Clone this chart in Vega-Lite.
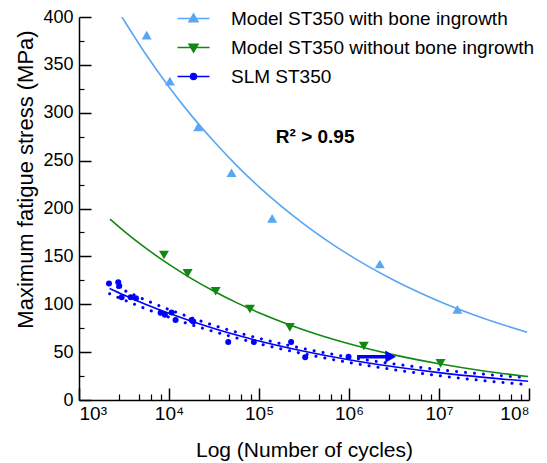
{
  "$schema": "https://vega.github.io/schema/vega-lite/v6.json",
  "width": 450,
  "height": 383,
  "autosize": {"type": "none"},
  "padding": {"left": 79, "top": 17, "right": 18, "bottom": 63},
  "config": {
    "font": "Liberation Sans",
    "view": {"stroke": null},
    "axis": {"grid": false, "domainColor": "#000", "tickColor": "#000", "domainWidth": 1.5, "tickWidth": 1.5, "labelColor": "#000", "titleColor": "#000", "labelFont": "Liberation Sans", "titleFont": "Liberation Sans", "titleFontWeight": "normal"},
    "legend": {"title": null, "orient": "none", "legendX": 105, "legendY": -8, "symbolSize": 100, "symbolStrokeWidth": 1.5, "labelFontSize": 19, "labelLimit": 0, "labelOffset": 28, "rowPadding": 9, "padding": 0, "labelColor": "#000", "labelFont": "Liberation Sans"}
  },
  "datasets": {
    "pts": [
      {"series": "Model ST350 with bone ingrowth", "N": 5650, "S": 381},
      {"series": "Model ST350 with bone ingrowth", "N": 10230, "S": 333},
      {"series": "Model ST350 with bone ingrowth", "N": 21100, "S": 285.3},
      {"series": "Model ST350 with bone ingrowth", "N": 49500, "S": 237.3},
      {"series": "Model ST350 with bone ingrowth", "N": 140000, "S": 189.7},
      {"series": "Model ST350 with bone ingrowth", "N": 2200000, "S": 142},
      {"series": "Model ST350 with bone ingrowth", "N": 16000000, "S": 94.7},
      {"series": "Model ST350 without bone ingrowth", "N": 8790, "S": 151.4},
      {"series": "Model ST350 without bone ingrowth", "N": 16100, "S": 132.2},
      {"series": "Model ST350 without bone ingrowth", "N": 33000, "S": 113.6},
      {"series": "Model ST350 without bone ingrowth", "N": 79300, "S": 95},
      {"series": "Model ST350 without bone ingrowth", "N": 220000, "S": 75.9},
      {"series": "Model ST350 without bone ingrowth", "N": 1460000, "S": 56.4},
      {"series": "Model ST350 without bone ingrowth", "N": 10400000, "S": 38.3},
      {"series": "SLM ST350", "N": 2153, "S": 121.8},
      {"series": "SLM ST350", "N": 2729, "S": 122.9},
      {"series": "SLM ST350", "N": 2800, "S": 119},
      {"series": "SLM ST350", "N": 2979, "S": 107.2},
      {"series": "SLM ST350", "N": 3750, "S": 107.2},
      {"series": "SLM ST350", "N": 4295, "S": 106.2},
      {"series": "SLM ST350", "N": 8072, "S": 91.2},
      {"series": "SLM ST350", "N": 9000, "S": 89},
      {"series": "SLM ST350", "N": 10690, "S": 91.5},
      {"series": "SLM ST350", "N": 11830, "S": 83.5},
      {"series": "SLM ST350", "N": 17820, "S": 83.5},
      {"series": "SLM ST350", "N": 18600, "S": 82},
      {"series": "SLM ST350", "N": 45500, "S": 60.5},
      {"series": "SLM ST350", "N": 87700, "S": 60.5},
      {"series": "SLM ST350", "N": 227500, "S": 60.5},
      {"series": "SLM ST350", "N": 326000, "S": 44.6},
      {"series": "SLM ST350", "N": 988000, "S": 45.2}
    ],
    "fits": [
      {"series": "Model ST350 with bone ingrowth", "N": 3000, "S": 400},
      {"series": "Model ST350 with bone ingrowth", "N": 5623, "S": 360},
      {"series": "Model ST350 with bone ingrowth", "N": 10000, "S": 327},
      {"series": "Model ST350 with bone ingrowth", "N": 17783, "S": 297},
      {"series": "Model ST350 with bone ingrowth", "N": 31623, "S": 269.9},
      {"series": "Model ST350 with bone ingrowth", "N": 56234, "S": 245.1},
      {"series": "Model ST350 with bone ingrowth", "N": 100000, "S": 222.6},
      {"series": "Model ST350 with bone ingrowth", "N": 316228, "S": 183.7},
      {"series": "Model ST350 with bone ingrowth", "N": 1000000, "S": 151.5},
      {"series": "Model ST350 with bone ingrowth", "N": 3162278, "S": 125},
      {"series": "Model ST350 with bone ingrowth", "N": 10000000, "S": 103.1},
      {"series": "Model ST350 with bone ingrowth", "N": 31622777, "S": 85.1},
      {"series": "Model ST350 with bone ingrowth", "N": 95499259, "S": 70.7},
      {"series": "Model ST350 without bone ingrowth", "N": 2213, "S": 188.9},
      {"series": "Model ST350 without bone ingrowth", "N": 3162, "S": 176.4},
      {"series": "Model ST350 without bone ingrowth", "N": 5623, "S": 158},
      {"series": "Model ST350 without bone ingrowth", "N": 10000, "S": 141.6},
      {"series": "Model ST350 without bone ingrowth", "N": 17783, "S": 126.8},
      {"series": "Model ST350 without bone ingrowth", "N": 31623, "S": 113.6},
      {"series": "Model ST350 without bone ingrowth", "N": 56234, "S": 101.7},
      {"series": "Model ST350 without bone ingrowth", "N": 100000, "S": 91.1},
      {"series": "Model ST350 without bone ingrowth", "N": 316228, "S": 73.1},
      {"series": "Model ST350 without bone ingrowth", "N": 1000000, "S": 58.7},
      {"series": "Model ST350 without bone ingrowth", "N": 3162278, "S": 47.1},
      {"series": "Model ST350 without bone ingrowth", "N": 10000000, "S": 37.8},
      {"series": "Model ST350 without bone ingrowth", "N": 31622777, "S": 30.3},
      {"series": "Model ST350 without bone ingrowth", "N": 97723722, "S": 24.5},
      {"series": "SLM ST350", "N": 2188, "S": 116.5},
      {"series": "SLM ST350", "N": 3162, "S": 109.6},
      {"series": "SLM ST350", "N": 5623, "S": 99.5},
      {"series": "SLM ST350", "N": 10000, "S": 90.5},
      {"series": "SLM ST350", "N": 17783, "S": 82.2},
      {"series": "SLM ST350", "N": 31623, "S": 74.7},
      {"series": "SLM ST350", "N": 56234, "S": 67.8},
      {"series": "SLM ST350", "N": 100000, "S": 61.6},
      {"series": "SLM ST350", "N": 316228, "S": 50.9},
      {"series": "SLM ST350", "N": 1000000, "S": 42},
      {"series": "SLM ST350", "N": 3162278, "S": 34.7},
      {"series": "SLM ST350", "N": 10000000, "S": 28.6},
      {"series": "SLM ST350", "N": 31622777, "S": 23.6},
      {"series": "SLM ST350", "N": 97723722, "S": 19.6}
    ],
    "band": [
      {"side": "upper", "N": 2188, "S": 122},
      {"side": "upper", "N": 3162, "S": 114.6},
      {"side": "upper", "N": 5623, "S": 104},
      {"side": "upper", "N": 10000, "S": 94.5},
      {"side": "upper", "N": 17783, "S": 85.8},
      {"side": "upper", "N": 31623, "S": 77.9},
      {"side": "upper", "N": 56234, "S": 70.8},
      {"side": "upper", "N": 100000, "S": 64.4},
      {"side": "upper", "N": 316228, "S": 53.6},
      {"side": "upper", "N": 1000000, "S": 44.8},
      {"side": "upper", "N": 3162278, "S": 37.7},
      {"side": "upper", "N": 10000000, "S": 31.8},
      {"side": "upper", "N": 31622777, "S": 27},
      {"side": "upper", "N": 97723722, "S": 23.2},
      {"side": "lower", "N": 2188, "S": 111},
      {"side": "lower", "N": 3162, "S": 104.6},
      {"side": "lower", "N": 5623, "S": 95},
      {"side": "lower", "N": 10000, "S": 86.5},
      {"side": "lower", "N": 17783, "S": 78.6},
      {"side": "lower", "N": 31623, "S": 71.5},
      {"side": "lower", "N": 56234, "S": 64.8},
      {"side": "lower", "N": 100000, "S": 58.8},
      {"side": "lower", "N": 316228, "S": 48.2},
      {"side": "lower", "N": 1000000, "S": 39.2},
      {"side": "lower", "N": 3162278, "S": 31.7},
      {"side": "lower", "N": 10000000, "S": 25.4},
      {"side": "lower", "N": 31622777, "S": 20.2},
      {"side": "lower", "N": 97723722, "S": 16}
    ],
    "arrow": [{"N": 1230000, "N2": 2900000, "S": 45.2}],
    "note": [{"N": 153800, "S": 274.5, "label": "R² > 0.95"}]
  },
  "resolve": {"axis": {"x": "independent", "y": "independent"}},
  "layer": [
    {
      "data": {"name": "pts"},
      "mark": {"type": "point", "opacity": 0},
      "encoding": {
        "x": {"field": "N", "type": "quantitative", "scale": {"type": "log", "domain": [1000, 100000000], "nice": false},
          "axis": {"orient": "bottom", "values": [2780, 4600, 6350, 8100, 27800, 46000, 63500, 81000, 278000, 460000, 635000, 810000, 2780000, 4600000, 6350000, 8100000, 27800000, 46000000, 63500000, 81000000], "tickSize": -6, "tickWidth": 1.2, "labels": false, "domain": false, "title": null}},
        "y": {"field": "S", "type": "quantitative", "scale": {"domain": [0, 400], "nice": false},
          "axis": {"orient": "left", "values": [25, 75, 125, 175, 225, 275, 325, 375], "tickSize": -5, "tickWidth": 1.2, "labels": false, "domain": false, "title": null}}
      }
    },
    {
      "data": {"name": "pts"},
      "transform": [{"filter": "datum.N < 0"}],
      "mark": {"type": "point", "filled": true, "opacity": 1, "strokeWidth": 1.5},
      "encoding": {
        "x": {"field": "N", "type": "quantitative", "scale": {"type": "log", "domain": [1000, 100000000], "nice": false}, "axis": null},
        "y": {"field": "S", "type": "quantitative", "scale": {"domain": [0, 400], "nice": false}, "axis": null},
        "color": {"field": "series", "type": "nominal", "scale": {"domain": ["Model ST350 with bone ingrowth", "Model ST350 without bone ingrowth", "SLM ST350"], "range": ["#58A6F4", "#118811", "#0000FF"]}},
        "stroke": {"field": "series", "type": "nominal", "scale": {"domain": ["Model ST350 with bone ingrowth", "Model ST350 without bone ingrowth", "SLM ST350"], "range": ["#58A6F4", "#118811", "#0000FF"]}},
        "shape": {"field": "series", "type": "nominal", "scale": {"domain": ["Model ST350 with bone ingrowth", "Model ST350 without bone ingrowth", "SLM ST350"], "range": ["M-3.2,0H3.2M0,-0.9L0.9,0.65L-0.9,0.65Z", "M-3.2,0H3.2M0,0.9L0.9,-0.65L-0.9,-0.65Z", "M-3.2,0H3.2M-0.6,0A0.6,0.6,0,1,0,0.6,0A0.6,0.6,0,1,0,-0.6,0Z"]}}
      }
    },
    {
      "data": {"name": "band"},
      "mark": {"type": "line", "color": "#0000FF", "strokeWidth": 3, "strokeCap": "round", "strokeDash": [0.1, 8.9], "interpolate": "monotone", "clip": true},
      "encoding": {
        "x": {"field": "N", "type": "quantitative", "scale": {"type": "log", "domain": [1000, 100000000], "nice": false}, "axis": null},
        "y": {"field": "S", "type": "quantitative", "scale": {"domain": [0, 400], "nice": false}, "axis": null},
        "detail": {"field": "side"}
      }
    },
    {
      "data": {"name": "fits"},
      "transform": [{"filter": "datum.series === 'Model ST350 with bone ingrowth'"}],
      "mark": {"type": "line", "color": "#58A6F4", "strokeWidth": 1.6, "interpolate": "monotone", "clip": true},
      "encoding": {
        "x": {"field": "N", "type": "quantitative", "scale": {"type": "log", "domain": [1000, 100000000], "nice": false}, "axis": null},
        "y": {"field": "S", "type": "quantitative", "scale": {"domain": [0, 400], "nice": false}, "axis": null}
      }
    },
    {
      "data": {"name": "fits"},
      "transform": [{"filter": "datum.series === 'Model ST350 without bone ingrowth'"}],
      "mark": {"type": "line", "color": "#118811", "strokeWidth": 1.6, "interpolate": "monotone", "clip": true},
      "encoding": {
        "x": {"field": "N", "type": "quantitative", "scale": {"type": "log", "domain": [1000, 100000000], "nice": false}, "axis": null},
        "y": {"field": "S", "type": "quantitative", "scale": {"domain": [0, 400], "nice": false}, "axis": null}
      }
    },
    {
      "data": {"name": "fits"},
      "transform": [{"filter": "datum.series === 'SLM ST350'"}],
      "mark": {"type": "line", "color": "#0000FF", "strokeWidth": 1.6, "interpolate": "monotone", "clip": true},
      "encoding": {
        "x": {"field": "N", "type": "quantitative", "scale": {"type": "log", "domain": [1000, 100000000], "nice": false}, "axis": null},
        "y": {"field": "S", "type": "quantitative", "scale": {"domain": [0, 400], "nice": false}, "axis": null}
      }
    },
    {
      "data": {"name": "pts"},
      "transform": [{"filter": "datum.series === 'Model ST350 with bone ingrowth'"}],
      "mark": {"type": "point", "shape": "triangle-up", "filled": true, "color": "#58A6F4", "opacity": 1, "size": 100},
      "encoding": {
        "x": {"field": "N", "type": "quantitative", "scale": {"type": "log", "domain": [1000, 100000000], "nice": false},
          "axis": {"orient": "bottom", "values": [1000, 10000, 100000, 1000000, 10000000, 100000000], "labelExpr": "'10' + ['³','⁴','⁵','⁶','⁷','⁸'][round(log(datum.value)/LN10) - 3]", "tickSize": -12, "labelPadding": 16, "labelFontSize": 19, "title": "Log (Number of cycles)", "titleFontSize": 21, "titleY": 56, "titleBaseline": "alphabetic"}},
        "y": {"field": "S", "type": "quantitative", "scale": {"domain": [0, 400], "nice": false},
          "axis": {"orient": "left", "values": [0, 50, 100, 150, 200, 250, 300, 350, 400], "tickSize": -12, "labelPadding": 18, "labelFontSize": 18, "title": "Maximum fatigue stress (MPa)", "titleFontSize": 22, "titleX": -47, "titleY": 162, "titleBaseline": "alphabetic", "titleAlign": "center"}}
      }
    },
    {
      "data": {"name": "pts"},
      "transform": [{"filter": "datum.series === 'Model ST350 without bone ingrowth'"}],
      "mark": {"type": "point", "shape": "triangle-down", "filled": true, "color": "#118811", "opacity": 1, "size": 100},
      "encoding": {
        "x": {"field": "N", "type": "quantitative", "scale": {"type": "log", "domain": [1000, 100000000], "nice": false}, "axis": null},
        "y": {"field": "S", "type": "quantitative", "scale": {"domain": [0, 400], "nice": false}, "axis": null}
      }
    },
    {
      "data": {"name": "pts"},
      "transform": [{"filter": "datum.series === 'SLM ST350'"}],
      "mark": {"type": "point", "shape": "circle", "filled": true, "color": "#0000FF", "opacity": 1, "size": 36},
      "encoding": {
        "x": {"field": "N", "type": "quantitative", "scale": {"type": "log", "domain": [1000, 100000000], "nice": false}, "axis": null},
        "y": {"field": "S", "type": "quantitative", "scale": {"domain": [0, 400], "nice": false}, "axis": null}
      }
    },
    {
      "data": {"name": "arrow"},
      "mark": {"type": "rule", "color": "#0000FF", "strokeWidth": 3.5},
      "encoding": {
        "x": {"field": "N", "type": "quantitative", "scale": {"type": "log", "domain": [1000, 100000000], "nice": false}, "axis": null},
        "x2": {"field": "N2"},
        "y": {"field": "S", "type": "quantitative", "scale": {"domain": [0, 400], "nice": false}, "axis": null}
      }
    },
    {
      "data": {"name": "arrow"},
      "mark": {"type": "point", "shape": "triangle-right", "filled": true, "color": "#0000FF", "opacity": 1, "size": 150},
      "encoding": {
        "x": {"field": "N2", "type": "quantitative", "scale": {"type": "log", "domain": [1000, 100000000], "nice": false}, "axis": null},
        "y": {"field": "S", "type": "quantitative", "scale": {"domain": [0, 400], "nice": false}, "axis": null}
      }
    },
    {
      "data": {"name": "note"},
      "mark": {"type": "text", "align": "left", "baseline": "middle", "fontSize": 19, "fontWeight": "bold", "font": "Liberation Sans", "color": "#000"},
      "encoding": {
        "x": {"field": "N", "type": "quantitative", "scale": {"type": "log", "domain": [1000, 100000000], "nice": false}, "axis": null},
        "y": {"field": "S", "type": "quantitative", "scale": {"domain": [0, 400], "nice": false}, "axis": null},
        "text": {"field": "label"}
      }
    }
  ]
}
